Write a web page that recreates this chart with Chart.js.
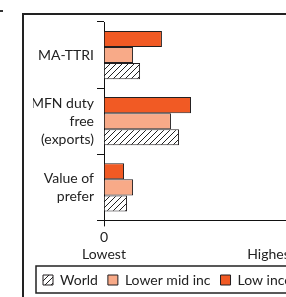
<!DOCTYPE html>
<html>
<head>
<meta charset="utf-8">
<script src="https://cdn.jsdelivr.net/npm/chart.js@4"></script>
<style>
  html, body { margin: 0; padding: 0; background: #fff; overflow: hidden; width: 286px; height: 297px; }
  #frame { position: absolute; left: 22px; top: 13px; width: 400px; height: 400px;
           border-left: 2px solid #222; border-top: 2px solid #222; }
  #dot { position: absolute; left: 0; top: 10px; width: 3px; height: 2px; background: #333; }
  #wrap { position: absolute; left: 0; top: 0; }
</style>
</head>
<body>
<div id="dot"></div>
<div id="frame"></div>
<div id="wrap"><canvas id="chart" width="400" height="297"></canvas></div>
<script>
// categories (top to bottom) and series values, 0 = Lowest, 100 = Highest
const categories = [['MA-TTRI'], ['MFN duty', 'free', '(exports)'], ['Value of', 'prefer']];
const lowIncome = [34.7, 52.1, 12.0];
const lowerMidIncome = [17.4, 40.1, 17.4];
const world = [21.6, 44.9, 13.8];
const xTickValues = [0, 100];
const xTickLabels = [['0', 'Lowest'], ['', 'Highest']];

const FONT = 'Lato';

function hatchPattern() {
    const c = document.createElement('canvas');
    c.width = 6; c.height = 6;
    const g = c.getContext('2d');
    g.fillStyle = '#fff';
    g.fillRect(0, 0, 6, 6);
    g.strokeStyle = '#222';
    g.lineWidth = 1;
    g.beginPath();
    g.moveTo(0, 6); g.lineTo(6, 0);
    g.moveTo(-1, 1); g.lineTo(1, -1);
    g.moveTo(5, 7); g.lineTo(7, 5);
    g.stroke();
    return g.createPattern(c, 'repeat');
}

// box around the legend
const legendFrame = {
    id: 'legendFrame',
    afterDraw(chart) {
        const boxes = chart.legend.legendHitBoxes;
        if (!boxes || !boxes.length) return;
        const left = Math.min(...boxes.map(b => b.left)) - 7;
        const cy = boxes[0].top + boxes[0].height / 2;
        const ctx = chart.ctx;
        ctx.save();
        ctx.strokeStyle = '#222';
        ctx.lineWidth = 1.5;
        ctx.strokeRect(left, Math.round(cy - 14), chart.width, 27);
        ctx.restore();
    }
};

const ctx = document.getElementById('chart').getContext('2d');
const barStyle = { borderColor: '#231F20', borderWidth: 1, barPercentage: 1, categoryPercentage: 0.73 };

new Chart(ctx, {
    type: 'bar',
    data: {
        labels: categories,
        datasets: [
            { label: 'Low income', data: lowIncome, backgroundColor: '#F15A24', ...barStyle },
            { label: 'Lower mid inc', data: lowerMidIncome, backgroundColor: '#F8AA88', ...barStyle },
            { label: 'World', data: world, backgroundColor: hatchPattern(), ...barStyle }
        ]
    },
    options: {
        indexAxis: 'y',
        responsive: false,
        animation: false,
        layout: { padding: { left: 33, top: 22, right: 20, bottom: 0 } },
        plugins: {
            tooltip: { enabled: false },
            legend: {
                position: 'bottom',
                align: 'start',
                reverse: true,
                labels: {
                    boxWidth: 10, boxHeight: 10, padding: 10, color: '#222',
                    font: { family: FONT, size: 14, lineHeight: 1.1 }
                }
            }
        },
        scales: {
            x: {
                type: 'linear',
                min: 0,
                max: 165.3,
                afterBuildTicks: axis => { axis.ticks = xTickValues.map(v => ({ value: v })); },
                afterFit: axis => { axis.height = 42.6; },
                ticks: {
                    color: '#222', padding: 3, maxRotation: 0, autoSkip: false,
                    font: { family: FONT, size: 14, lineHeight: 1.2 },
                    callback: (v, i) => xTickLabels[i]
                },
                grid: {
                    drawOnChartArea: false, tickLength: 6,
                    color: c => (c.tick && c.tick.value === 0 ? '#111' : 'rgba(0,0,0,0)')
                },
                border: { color: '#111', width: 1 }
            },
            y: {
                afterFit: axis => { axis.width = 71; },
                ticks: {
                    color: '#222', padding: 3,
                    font: { family: FONT, size: 14, lineHeight: 1.3 }
                },
                grid: { drawOnChartArea: false, tickLength: 7, color: '#111', offset: true },
                border: { color: '#111', width: 1 }
            }
        }
    },
    plugins: [legendFrame]
});
</script>
</body>
</html>
